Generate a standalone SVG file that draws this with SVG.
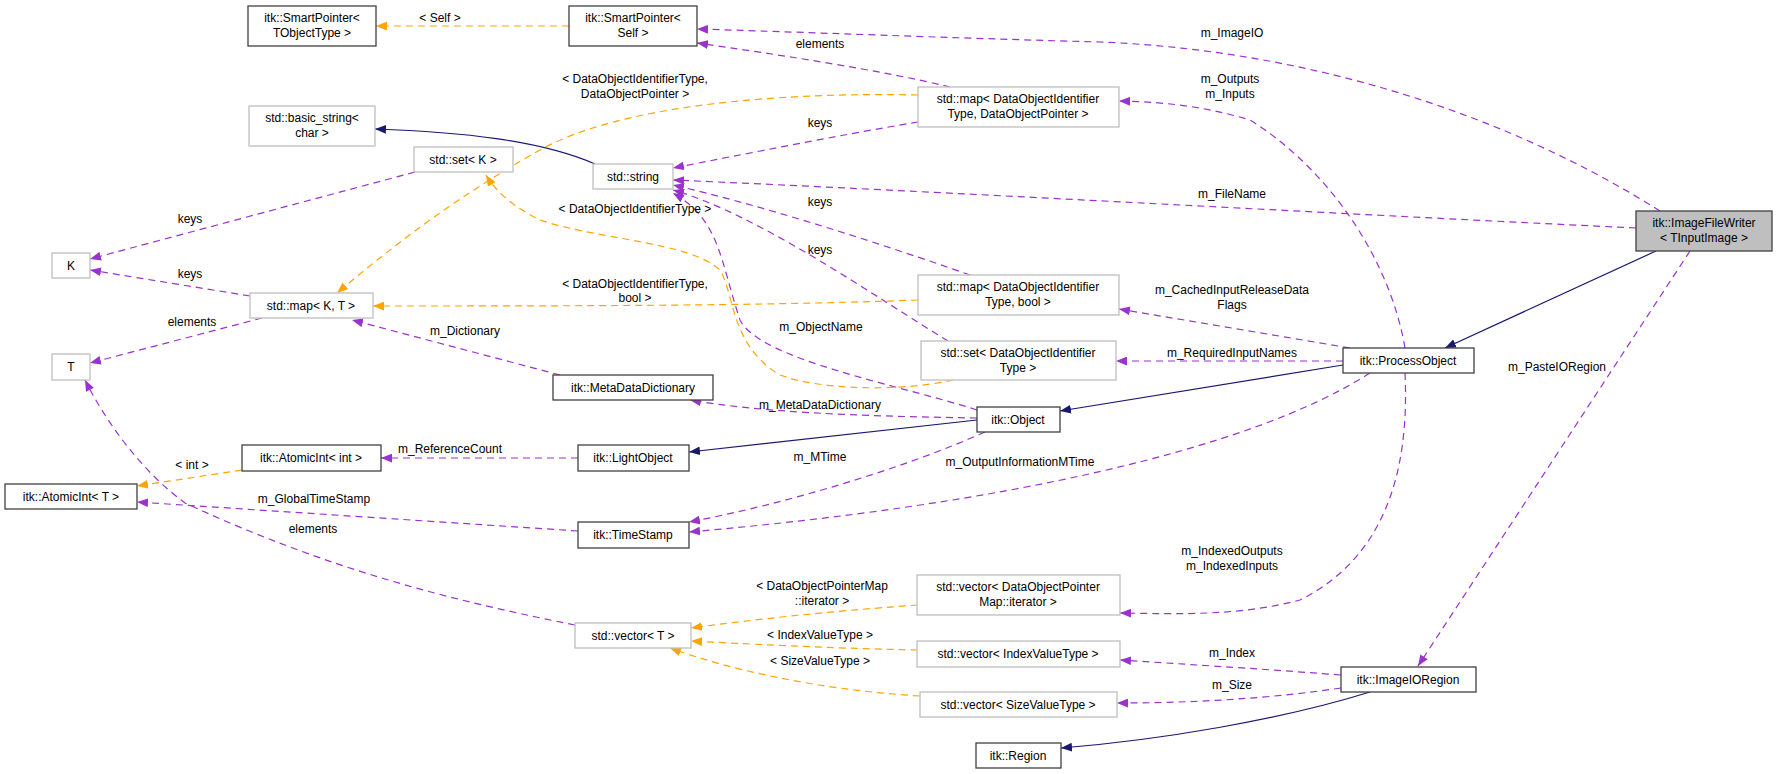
<svg xmlns="http://www.w3.org/2000/svg" width="1777" height="774" viewBox="0 0 1777 774">
<style>
text{font-family:"Liberation Sans",Arial,sans-serif;font-size:12px;fill:#000;text-anchor:middle}
.n rect{fill:#fff;stroke:#404040;stroke-width:1.3}
.g rect{fill:#fff;stroke:#bfbfbf;stroke-width:1.3}
.e path{fill:none;stroke-width:1.2}
.p{stroke:#9a32cd;stroke-dasharray:7,5;marker-end:url(#ap)}
.o{stroke:#ffa500;stroke-dasharray:7,5;marker-end:url(#ao)}
.b{stroke:#191970;marker-end:url(#ab)}
</style>
<defs>
<marker id="ap" viewBox="0 0 10 8" refX="10" refY="4" markerWidth="11" markerHeight="9" markerUnits="userSpaceOnUse" orient="auto"><path d="M0,0L10,4L0,8z" fill="#9a32cd"/></marker>
<marker id="ao" viewBox="0 0 10 8" refX="10" refY="4" markerWidth="11" markerHeight="9" markerUnits="userSpaceOnUse" orient="auto"><path d="M0,0L10,4L0,8z" fill="#ffa500"/></marker>
<marker id="ab" viewBox="0 0 10 8" refX="10" refY="4" markerWidth="11" markerHeight="9" markerUnits="userSpaceOnUse" orient="auto"><path d="M0,0L10,4L0,8z" fill="#191970"/></marker>
</defs>
<rect width="1777" height="774" fill="#fff"/>
<g id="edges" class="e">
<path class="o" d="M569,26L376,26"/>
<path class="p" d="M950,87C880,70 780,55 697,43"/>
<path class="p" d="M1660,211C1500,110 1300,50 1100,42C950,38 800,32 697,29"/>
<path class="b" d="M595,164C540,140 460,132 375,129"/>
<path class="p" d="M918,122C840,135 740,155 673,168"/>
<path class="p" d="M1636,228C1300,212 950,192 673,180"/>
<path class="p" d="M970,275C870,240 760,205 673,185"/>
<path class="p" d="M948,341C880,300 760,215 673,190"/>
<path class="p" d="M977,410C900,385 760,360 740,320C720,260 720,220 673,193"/>
<path class="o" d="M918,95C780,92 620,105 540,150C460,195 400,240 337,293"/>
<path class="o" d="M953,380C900,392 820,390 780,375C730,345 735,295 720,270C690,242 600,240 540,220C510,205 495,190 486,175"/>
<path class="o" d="M918,300C760,306 560,306 373,306"/>
<path class="p" d="M415,172L90,259"/>
<path class="p" d="M250,296L90,270"/>
<path class="p" d="M262,318L90,363"/>
<path class="p" d="M560,375L352,320"/>
<path class="p" d="M977,418C850,416 760,412 690,400"/>
<path class="b" d="M977,420L689,452"/>
<path class="p" d="M985,432C900,470 780,505 689,522"/>
<path class="p" d="M1370,373C1250,450 1000,505 689,532"/>
<path class="p" d="M578,458L381,458"/>
<path class="o" d="M242,470L137,486"/>
<path class="p" d="M578,531L137,502"/>
<path class="p" d="M575,625C450,600 330,570 185,503C140,470 105,420 85,380"/>
<path class="p" d="M1405,348C1390,260 1330,170 1250,120C1200,105 1160,102 1119,101"/>
<path class="p" d="M1350,348L1119,309"/>
<path class="p" d="M1343,361L1116,361"/>
<path class="b" d="M1656,251L1445,348"/>
<path class="b" d="M1343,365L1060,411"/>
<path class="p" d="M1690,251L1418,666"/>
<path class="p" d="M1405,373C1410,480 1380,560 1300,600C1240,616 1180,614 1120,613"/>
<path class="p" d="M1341,675C1250,668 1180,664 1120,660"/>
<path class="p" d="M1341,688C1260,700 1180,703 1117,703"/>
<path class="b" d="M1370,692C1280,720 1160,740 1061,748"/>
<path class="o" d="M918,605C820,612 750,620 691,628"/>
<path class="o" d="M918,650C820,648 750,644 691,641"/>
<path class="o" d="M920,696C820,690 730,670 670,648"/>
</g>
<g id="labels">
<text x="440" y="22">&lt; Self &gt;</text>
<text x="820" y="48">elements</text>
<text x="1232" y="37">m_ImageIO</text>
<text x="635" y="83">&lt; DataObjectIdentifierType,</text>
<text x="635" y="98">DataObjectPointer &gt;</text>
<text x="820" y="127">keys</text>
<text x="1230" y="83">m_Outputs</text>
<text x="1230" y="98">m_Inputs</text>
<text x="1232" y="198">m_FileName</text>
<text x="820" y="206">keys</text>
<text x="635" y="213">&lt; DataObjectIdentifierType &gt;</text>
<text x="190" y="223">keys</text>
<text x="820" y="254">keys</text>
<text x="190" y="278">keys</text>
<text x="635" y="288">&lt; DataObjectIdentifierType,</text>
<text x="635" y="302">bool &gt;</text>
<text x="1232" y="294">m_CachedInputReleaseData</text>
<text x="1232" y="309">Flags</text>
<text x="192" y="326">elements</text>
<text x="465" y="335">m_Dictionary</text>
<text x="821" y="331">m_ObjectName</text>
<text x="1232" y="357">m_RequiredInputNames</text>
<text x="1557" y="371">m_PasteIORegion</text>
<text x="820" y="409">m_MetaDataDictionary</text>
<text x="450" y="453">m_ReferenceCount</text>
<text x="820" y="461">m_MTime</text>
<text x="1020" y="466">m_OutputInformationMTime</text>
<text x="192" y="469">&lt; int &gt;</text>
<text x="314" y="503">m_GlobalTimeStamp</text>
<text x="313" y="533">elements</text>
<text x="1232" y="555">m_IndexedOutputs</text>
<text x="1232" y="570">m_IndexedInputs</text>
<text x="822" y="590">&lt; DataObjectPointerMap</text>
<text x="822" y="605">::iterator &gt;</text>
<text x="820" y="639">&lt; IndexValueType &gt;</text>
<text x="1232" y="657">m_Index</text>
<text x="820" y="665">&lt; SizeValueType &gt;</text>
<text x="1232" y="689">m_Size</text>
</g>
<g id="n1" class="n"><rect x="248" y="6" width="128" height="40"/><text x="312" y="22">itk::SmartPointer&lt;</text><text x="312" y="37">TObjectType &gt;</text></g>
<g id="n2" class="n"><rect x="569" y="6" width="128" height="40"/><text x="633" y="22">itk::SmartPointer&lt;</text><text x="633" y="37">Self &gt;</text></g>
<g id="n3" class="g"><rect x="249" y="106" width="126" height="40"/><text x="312" y="122">std::basic_string&lt;</text><text x="312" y="137">char &gt;</text></g>
<g id="n4" class="g"><rect x="414" y="147" width="99" height="25"/><text x="463" y="164">std::set&lt; K &gt;</text></g>
<g id="n5" class="g"><rect x="593" y="164" width="80" height="25"/><text x="633" y="181">std::string</text></g>
<g id="n6" class="g"><rect x="52" y="253" width="38" height="25"/><text x="71" y="270">K</text></g>
<g id="n7" class="g"><rect x="250" y="293" width="123" height="25"/><text x="311" y="310">std::map&lt; K, T &gt;</text></g>
<g id="n8" class="g"><rect x="52" y="354" width="38" height="26"/><text x="71" y="371">T</text></g>
<g id="n9" class="g"><rect x="918" y="87" width="201" height="40"/><text x="1018" y="103">std::map&lt; DataObjectIdentifier</text><text x="1018" y="118">Type, DataObjectPointer &gt;</text></g>
<g id="n10" class="g"><rect x="918" y="275" width="201" height="40"/><text x="1018" y="291">std::map&lt; DataObjectIdentifier</text><text x="1018" y="306">Type, bool &gt;</text></g>
<g id="n11" class="g"><rect x="921" y="341" width="195" height="39"/><text x="1018" y="357">std::set&lt; DataObjectIdentifier</text><text x="1018" y="372">Type &gt;</text></g>
<g id="n12" class="n"><rect x="553" y="375" width="160" height="25"/><text x="633" y="392">itk::MetaDataDictionary</text></g>
<g id="n13" class="n"><rect x="1636" y="211" width="136" height="40" style="fill:#bfbfbf"/><text x="1704" y="227">itk::ImageFileWriter</text><text x="1704" y="242">&lt; TInputImage &gt;</text></g>
<g id="n14" class="n"><rect x="1343" y="348" width="131" height="25"/><text x="1408" y="365">itk::ProcessObject</text></g>
<g id="n15" class="n"><rect x="977" y="407" width="83" height="25"/><text x="1018" y="424">itk::Object</text></g>
<g id="n16" class="n"><rect x="242" y="445" width="139" height="26"/><text x="311" y="462">itk::AtomicInt&lt; int &gt;</text></g>
<g id="n17" class="n"><rect x="578" y="445" width="111" height="26"/><text x="633" y="462">itk::LightObject</text></g>
<g id="n18" class="n"><rect x="5" y="484" width="132" height="25"/><text x="71" y="501">itk::AtomicInt&lt; T &gt;</text></g>
<g id="n19" class="n"><rect x="578" y="522" width="111" height="26"/><text x="633" y="539">itk::TimeStamp</text></g>
<g id="n20" class="g"><rect x="917" y="575" width="203" height="40"/><text x="1018" y="591">std::vector&lt; DataObjectPointer</text><text x="1018" y="606">Map::iterator &gt;</text></g>
<g id="n21" class="g"><rect x="575" y="623" width="116" height="25"/><text x="633" y="640">std::vector&lt; T &gt;</text></g>
<g id="n22" class="g"><rect x="917" y="641" width="203" height="26"/><text x="1018" y="658">std::vector&lt; IndexValueType &gt;</text></g>
<g id="n23" class="g"><rect x="920" y="692" width="197" height="25"/><text x="1018" y="709">std::vector&lt; SizeValueType &gt;</text></g>
<g id="n24" class="n"><rect x="1341" y="667" width="135" height="25"/><text x="1408" y="684">itk::ImageIORegion</text></g>
<g id="n25" class="n"><rect x="976" y="743" width="85" height="25"/><text x="1018" y="760">itk::Region</text></g>
</svg>
